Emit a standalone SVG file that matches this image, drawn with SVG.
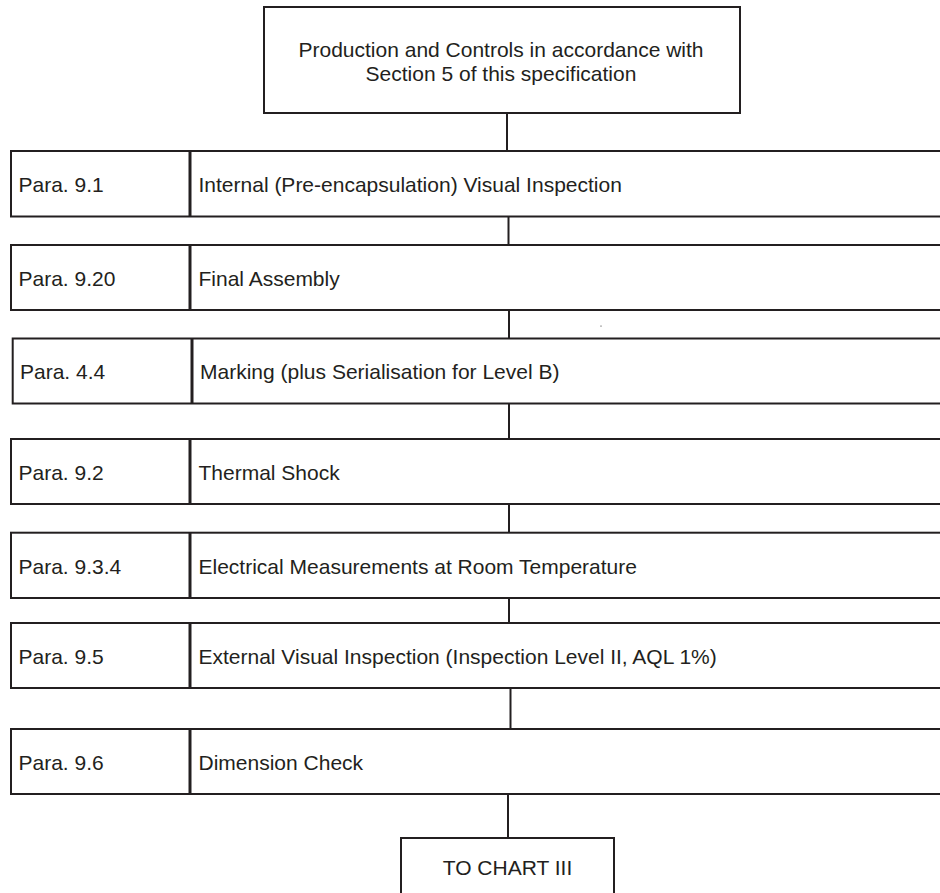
<svg xmlns="http://www.w3.org/2000/svg" width="940" height="893" viewBox="0 0 940 893">
<style>
.box{fill:#fff;stroke:#231f20;stroke-width:2}
.div{stroke:#231f20;stroke-width:3}
.con{stroke:#231f20;stroke-width:2;fill:none}
text{font-family:"Liberation Sans",Arial,Helvetica,sans-serif;font-size:21px;fill:#231f20}
</style>
<rect width="940" height="893" fill="#fff"/>
<g id="connectors">
<line class="con" x1="507" y1="113" x2="507" y2="151"/>
<line class="con" x1="508.5" y1="216.5" x2="508.5" y2="245"/>
<line class="con" x1="509" y1="310" x2="509" y2="338.5"/>
<line class="con" x1="509" y1="403.5" x2="509" y2="439"/>
<line class="con" x1="509" y1="504" x2="509" y2="532.7"/>
<line class="con" x1="509" y1="598" x2="509" y2="623"/>
<line class="con" x1="510.5" y1="688" x2="510.5" y2="729"/>
<line class="con" x1="508" y1="794" x2="508" y2="838"/>
</g>
<g id="start">
<rect class="box" x="264" y="7" width="476" height="106"/>
<text x="501" y="57" text-anchor="middle">Production and Controls in accordance with</text>
<text x="501" y="81" text-anchor="middle">Section 5 of this specification</text>
</g>
<g id="row1">
<rect class="box" x="11" y="151" width="940" height="65.5"/>
<line class="div" x1="190" y1="151" x2="190" y2="216.5"/>
<text x="18.5" y="192">Para. 9.1</text>
<text x="198.5" y="192">Internal (Pre-encapsulation) Visual Inspection</text>
</g>
<g id="row2">
<rect class="box" x="11" y="245" width="940" height="65"/>
<line class="div" x1="190" y1="245" x2="190" y2="310"/>
<text x="18.5" y="285.5">Para. 9.20</text>
<text x="198.5" y="285.5">Final Assembly</text>
</g>
<g id="row3">
<rect class="box" x="12.7" y="338.5" width="940" height="65"/>
<line class="div" x1="192" y1="338.5" x2="192" y2="403.5"/>
<text x="20" y="379">Para. 4.4</text>
<text x="200" y="379">Marking (plus Serialisation for Level B)</text>
</g>
<rect x="600.5" y="325.5" width="1" height="1.2" fill="#555"/>
<g id="row4">
<rect class="box" x="11" y="439" width="940" height="65"/>
<line class="div" x1="190" y1="439" x2="190" y2="504"/>
<text x="18.5" y="479.5">Para. 9.2</text>
<text x="198.5" y="479.5">Thermal Shock</text>
</g>
<g id="row5">
<rect class="box" x="11" y="532.7" width="940" height="65.3"/>
<line class="div" x1="190" y1="532.7" x2="190" y2="598"/>
<text x="18.5" y="573.5">Para. 9.3.4</text>
<text x="198.5" y="573.5">Electrical Measurements at Room Temperature</text>
</g>
<g id="row6">
<rect class="box" x="11" y="623" width="940" height="65"/>
<line class="div" x1="190" y1="623" x2="190" y2="688"/>
<text x="18.5" y="663.5">Para. 9.5</text>
<text x="198.5" y="663.5">External Visual Inspection (Inspection Level II, AQL 1%)</text>
</g>
<g id="row7">
<rect class="box" x="11" y="729" width="940" height="65"/>
<line class="div" x1="190" y1="729" x2="190" y2="794"/>
<text x="18.5" y="769.5">Para. 9.6</text>
<text x="198.5" y="769.5">Dimension Check</text>
</g>
<g id="end">
<rect class="box" x="401" y="838" width="213" height="70"/>
<text x="507.5" y="875" text-anchor="middle">TO CHART III</text>
</g>
</svg>
